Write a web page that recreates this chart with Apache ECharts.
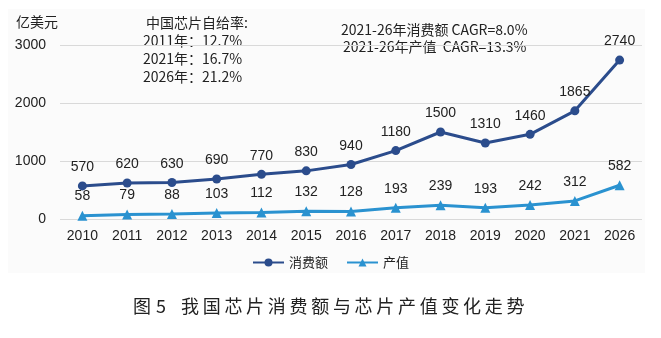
<!DOCTYPE html>
<html><head><meta charset="utf-8">
<script src="https://cdn.jsdelivr.net/npm/echarts@6/dist/echarts.min.js"></script>
<style>html,body{margin:0;padding:0;background:#fff}#c{width:661px;height:338px}</style>
</head><body><div id="c"></div>
<script>
const categories = ['2010','2011','2012','2013','2014','2015','2016','2017','2018','2019','2020','2021','2026'];
const consumption = [570,620,630,690,770,830,940,1180,1500,1310,1460,1865,2740];
const production = [58,79,88,103,112,132,128,193,239,193,242,312,582];
const yTicks = [0,1000,2000,3000];

const NUM = '"Liberation Sans",Arial,sans-serif';
const CJK = '"Noto Sans CJK SC",sans-serif';
const TITLE = '图5 我国芯片消费额与芯片产值变化走势';

const titleParts = [];
(function(){
  let x = 133;
  for (const ch of TITLE) {
    if (ch === ' ') { x += 4; continue; }
    titleParts.push({type:'text',left:x,top:297,style:{text:ch,font:'18px '+CJK,fill:'#222'}});
    x += (ch === '5') ? 21 : (ch === '图' ? 23 : 21.7);
  }
})();

const chart = echarts.init(document.getElementById('c'));
chart.setOption({
  backgroundColor:'#fff',
  animation:false,
  graphic:[
    {type:'rect',shape:{x:8,y:9,width:637,height:264},style:{fill:'#fbfbfb'},z:-10},
    {type:'text',left:16,top:15,style:{text:'亿美元',font:'14px '+CJK,fill:'#222'}},
    {type:'text',left:146,top:16,style:{text:'中国芯片自给率:',font:'14px '+CJK,fill:'#222'}},
    {type:'text',left:143,top:34,style:{text:'2011年：12.7%',font:'14px '+CJK,fill:'#222'}},
    {type:'text',left:143,top:52,style:{text:'2021年：16.7%',font:'14px '+CJK,fill:'#222'}},
    {type:'text',left:143,top:70,style:{text:'2026年：21.2%',font:'14px '+CJK,fill:'#222'}},
    {type:'text',left:341,top:23,style:{text:'2021-26年消费额 CAGR=8.0%',font:'14px '+CJK,fill:'#222'}},
    {type:'text',left:343,top:40,style:{text:'2021-26年产值  CAGR=13.3%',font:'14px '+CJK,fill:'#222'}}
  ].concat(titleParts),
  grid:{left:60,right:19,top:45,bottom:119,containLabel:false},
  legend:{top:251,left:'center',itemWidth:31,itemHeight:10,itemGap:18,
    textStyle:{fontFamily:CJK,fontSize:13,color:'#222'},
    data:['消费额','产值']},
  xAxis:{type:'category',data:categories,boundaryGap:true,
    axisLine:{show:false},axisTick:{show:false},
    axisLabel:{fontFamily:NUM,fontSize:14,color:'#222',margin:10,interval:0}},
  yAxis:{type:'value',min:yTicks[0],max:yTicks[yTicks.length-1],interval:1000,
    axisLine:{show:false},axisTick:{show:false},
    splitLine:{lineStyle:{color:'#d9d9d9',width:1}},
    axisLabel:{fontFamily:NUM,fontSize:14,color:'#222',margin:14,formatter:v=>String(v)}},
  series:[
    {name:'消费额',type:'line',data:consumption,symbol:'circle',symbolSize:9,
     lineStyle:{color:'#2B4C8C',width:3},itemStyle:{color:'#2B4C8C'},
     label:{show:true,position:'top',distance:7,fontFamily:NUM,fontSize:14,color:'#222'}},
    {name:'产值',type:'line',data:production,symbol:'triangle',symbolSize:10,
     lineStyle:{color:'#2A92D0',width:3},itemStyle:{color:'#2A92D0'},
     label:{show:true,position:'top',distance:7,fontFamily:NUM,fontSize:14,color:'#222'}}
  ]
});
</script></body></html>
